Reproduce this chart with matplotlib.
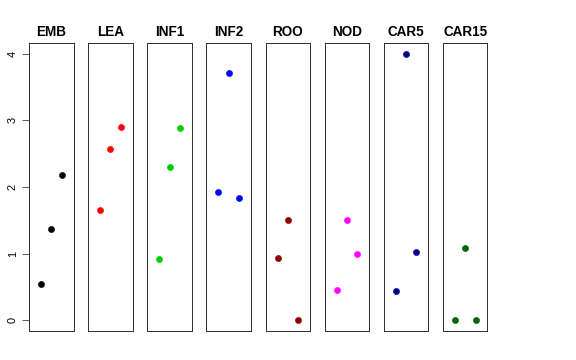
import matplotlib
matplotlib.use("Agg")
import matplotlib.pyplot as plt

plt.rcParams['font.family'] = ['Liberation Sans', 'DejaVu Sans']

stages = ['EMB', 'LEA', 'INF1', 'INF2', 'ROO', 'NOD', 'CAR5', 'CAR15']
colors = ['black', 'red', '#00CD00', 'blue', '#8B0000', '#FF00FF', '#00008B', '#006400']
xpos = [1, 2, 3]
emb = [0.54, 1.37, 2.18]
lea = [1.66, 2.57, 2.90]
inf1 = [0.92, 2.30, 2.89]
inf2 = [1.93, 3.71, 1.83]
roo = [0.93, 1.51, 0.00]
nod = [0.45, 1.51, 1.00]
car5 = [0.44, 4.00, 1.02]
car15 = [0.00, 1.09, 0.00]
values = [emb, lea, inf1, inf2, roo, nod, car5, car15]

W, H = 576, 360
fig = plt.figure(figsize=(W / 72, H / 72), dpi=72)

top, bottom = 43, 331
pw = 44.5
step = 59.14
for i, (name, col, yv) in enumerate(zip(stages, colors, values)):
    left = 29 + i * step
    ax = fig.add_axes([left / W, 1 - bottom / H, pw / W, (bottom - top) / H])
    ax.plot(xpos, yv, 'o', color=col, ms=6.2, mec=col, mew=0.5)
    ax.set_xlim(-0.16, 4.16)
    ax.set_ylim(-0.16, 4.16)
    ax.set_xticks([])
    ax.set_title(name, fontsize=13.5, fontweight='bold', pad=7)
    for s in ax.spines.values():
        s.set_color('#333333')
        s.set_linewidth(1.0)
    if i == 0:
        ax.set_yticks([0, 1, 2, 3, 4])
        ax.set_yticklabels(['0', '1', '2', '3', '4'], rotation=90, va='center', fontsize=11)
        ax.tick_params(axis='y', length=7, width=0.8, color='#333333', pad=4)
    else:
        ax.set_yticks([])

fig.savefig('out.png', dpi=72)
